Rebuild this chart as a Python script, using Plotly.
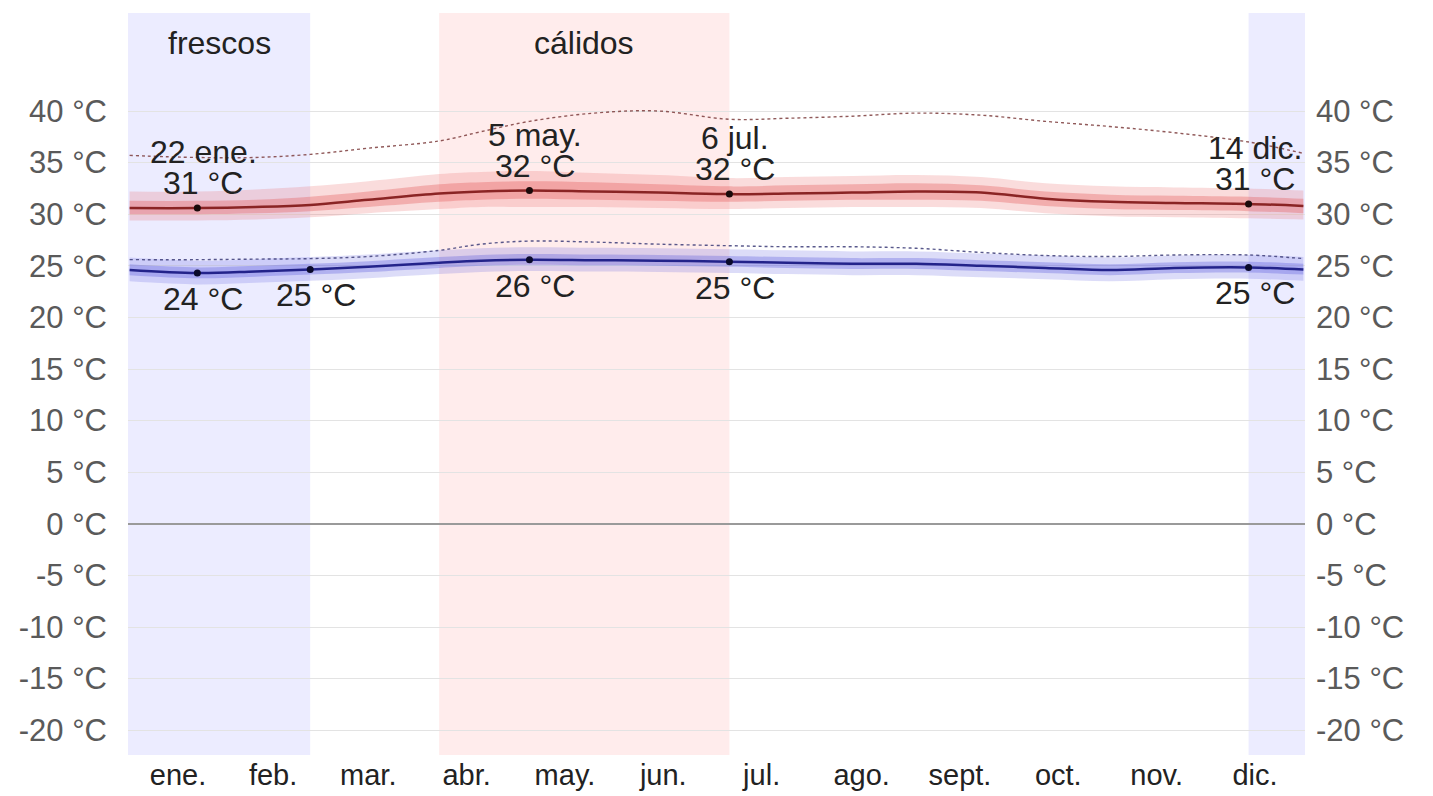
import plotly.graph_objects as go

# ---------------- data ----------------
months = ["ene.", "feb.", "mar.", "abr.", "may.", "jun.", "jul.", "ago.", "sept.", "oct.", "nov.", "dic."]
month_lengths = [31, 28, 31, 30, 31, 30, 31, 31, 30, 31, 30, 31]

# sample days (day of year)
days = [1, 22, 40, 57, 75, 97, 110, 125, 145, 165, 187, 205, 225, 245, 265, 285, 305, 325, 348, 365]

hi_mean = [30.6, 30.6, 30.7, 30.9, 31.4, 32.0, 32.2, 32.3, 32.2, 32.1, 31.95, 32.0, 32.1, 32.2, 32.1, 31.5, 31.2, 31.1, 31.0, 30.8]
hi_p90 = [32.2, 32.2, 32.4, 32.7, 33.2, 33.9, 34.1, 34.2, 34.0, 33.8, 33.5, 33.6, 33.7, 33.8, 33.6, 33.0, 32.7, 32.6, 32.5, 32.3]
hi_p75 = [31.3, 31.3, 31.4, 31.7, 32.2, 32.9, 33.1, 33.2, 33.1, 32.9, 32.7, 32.8, 32.9, 33.0, 32.8, 32.2, 31.9, 31.8, 31.7, 31.5]
hi_p25 = [30.0, 30.0, 30.1, 30.3, 30.7, 31.2, 31.4, 31.5, 31.4, 31.3, 31.2, 31.3, 31.4, 31.4, 31.3, 30.8, 30.5, 30.4, 30.3, 30.1]
hi_p10 = [29.4, 29.4, 29.5, 29.7, 30.1, 30.5, 30.7, 30.7, 30.7, 30.6, 30.5, 30.6, 30.7, 30.7, 30.6, 30.1, 29.8, 29.7, 29.6, 29.5]

lo_mean = [24.6, 24.3, 24.45, 24.65, 24.9, 25.3, 25.5, 25.6, 25.55, 25.5, 25.4, 25.3, 25.2, 25.2, 25.0, 24.8, 24.6, 24.8, 24.85, 24.65]
lo_p90 = [25.8, 25.5, 25.65, 25.85, 26.1, 26.5, 26.7, 26.8, 26.75, 26.7, 26.6, 26.5, 26.4, 26.4, 26.2, 26.0, 25.8, 26.0, 26.05, 25.85]
lo_p75 = [25.15, 24.85, 25.0, 25.2, 25.45, 25.85, 26.05, 26.15, 26.1, 26.05, 25.95, 25.85, 25.75, 25.75, 25.55, 25.35, 25.15, 25.35, 25.4, 25.2]
lo_p25 = [24.1, 23.8, 23.95, 24.15, 24.4, 24.8, 25.0, 25.1, 25.05, 25.0, 24.9, 24.8, 24.7, 24.7, 24.5, 24.3, 24.1, 24.3, 24.35, 24.15]
lo_p10 = [23.5, 23.2, 23.35, 23.55, 23.8, 24.2, 24.4, 24.5, 24.45, 24.4, 24.3, 24.2, 24.1, 24.1, 23.9, 23.7, 23.5, 23.7, 23.75, 23.55]

# perceived temperature (dotted)
feel_hi = [35.7, 35.5, 35.5, 35.8, 36.4, 37.1, 38.0, 39.0, 39.8, 40.0, 39.2, 39.3, 39.5, 39.8, 39.6, 39.0, 38.5, 37.9, 37.0, 35.9]
feel_lo = [25.6, 25.6, 25.65, 25.7, 25.9, 26.5, 27.1, 27.4, 27.3, 27.1, 26.95, 26.85, 26.85, 26.7, 26.3, 26.0, 25.9, 26.05, 26.05, 25.7]

# highlighted days
hi_mark_days = [22, 125, 187, 348]
hi_mark_labels = ["22 ene.", "5 may.", "6 jul.", "14 dic."]
lo_mark_days = [22, 57, 125, 187, 348]

# seasons (day of year boundaries)
cool_end = 57
warm_start = 97
warm_end = 187
cool_start = 348
season_names = ["frescos", "cálidos"]

y_ticks = [40, 35, 30, 25, 20, 15, 10, 5, 0, -5, -10, -15, -20]
y_range = [-22.4, 49.5]
# -----------------------------------------------------------------

xs = [d - 0.5 for d in days]
month_pos = []
acc = 0
for m in month_lengths:
    month_pos.append(acc + m / 2)
    acc += m

FONT = "Liberation Sans, Arial, sans-serif"
fig = go.Figure()


def band(lower, upper, color):
    fig.add_trace(go.Scatter(x=xs, y=lower, mode="lines", line=dict(width=0, shape="spline"),
                             hoverinfo="skip", showlegend=False))
    fig.add_trace(go.Scatter(x=xs, y=upper, mode="lines", line=dict(width=0, shape="spline"),
                             fill="tonexty", fillcolor=color, hoverinfo="skip", showlegend=False))


band(hi_p10, hi_p90, "rgba(232,95,95,0.22)")
band(hi_p25, hi_p75, "rgba(225,70,70,0.30)")
fig.add_trace(go.Scatter(x=xs, y=hi_mean, mode="lines", line=dict(color="#8a2424", width=2.5, shape="spline"),
                         showlegend=False, name="máx"))
fig.add_trace(go.Scatter(x=xs, y=feel_hi, mode="lines", line=dict(color="rgba(125,60,60,0.85)", width=1.4, dash="dot", shape="spline"),
                         showlegend=False))

band(lo_p10, lo_p90, "rgba(95,95,225,0.22)")
band(lo_p25, lo_p75, "rgba(80,80,220,0.30)")
fig.add_trace(go.Scatter(x=xs, y=lo_mean, mode="lines", line=dict(color="#23238a", width=2.5, shape="spline"),
                         showlegend=False, name="mín"))
fig.add_trace(go.Scatter(x=xs, y=feel_lo, mode="lines", line=dict(color="rgba(60,60,120,0.85)", width=1.4, dash="dot", shape="spline"),
                         showlegend=False))

hi_vals = [hi_mean[days.index(d)] for d in hi_mark_days]
lo_vals = [lo_mean[days.index(d)] for d in lo_mark_days]
fig.add_trace(go.Scatter(x=[d - 0.5 for d in hi_mark_days], y=hi_vals, mode="markers",
                         marker=dict(color="#1a0a0a", size=7), showlegend=False))
fig.add_trace(go.Scatter(x=[d - 0.5 for d in lo_mark_days], y=lo_vals, mode="markers",
                         marker=dict(color="#0a0a2a", size=7), showlegend=False))

# invisible trace for right axis
fig.add_trace(go.Scatter(x=[0], y=[0], yaxis="y2", mode="markers", marker=dict(opacity=0),
                         hoverinfo="skip", showlegend=False))

# season shading
shapes = [
    dict(type="rect", xref="x", yref="paper", x0=0, x1=cool_end - 0.5, y0=0, y1=1,
         fillcolor="rgba(120,120,255,0.14)", line=dict(width=0), layer="below"),
    dict(type="rect", xref="x", yref="paper", x0=cool_start - 0.5, x1=365, y0=0, y1=1,
         fillcolor="rgba(120,120,255,0.14)", line=dict(width=0), layer="below"),
    dict(type="rect", xref="x", yref="paper", x0=warm_start - 0.5, x1=warm_end - 0.5, y0=0, y1=1,
         fillcolor="rgba(255,120,120,0.14)", line=dict(width=0), layer="below"),
]

ann = []
TXT = dict(family=FONT, size=32, color="#222222")
ann.append(dict(x=(cool_end - 0.5) / 2, y=0.96, xref="x", yref="paper", text=season_names[0],
                showarrow=False, font=TXT, xanchor="center", yanchor="middle"))
ann.append(dict(x=(warm_start + warm_end - 1) / 2, y=0.96, xref="x", yref="paper", text=season_names[1],
                showarrow=False, font=TXT, xanchor="center", yanchor="middle"))

for d, v, lab in zip(hi_mark_days, hi_vals, hi_mark_labels):
    ann.append(dict(x=d - 0.5, y=v, xref="x", yref="y", text=lab, showarrow=False, font=TXT,
                    xanchor="center", yanchor="middle", yshift=56, xshift=6))
    ann.append(dict(x=d - 0.5, y=v, xref="x", yref="y", text=f"{round(v)} °C", showarrow=False, font=TXT,
                    xanchor="center", yanchor="middle", yshift=25, xshift=6))
for d, v in zip(lo_mark_days, lo_vals):
    ann.append(dict(x=d - 0.5, y=v, xref="x", yref="y", text=f"{round(v)} °C", showarrow=False, font=TXT,
                    xanchor="center", yanchor="middle", yshift=-26, xshift=6))

tick_text = [f"{t} °C" for t in y_ticks]
TICKF = dict(family=FONT, size=31, color="#5a5a5a")

fig.update_layout(
    width=1433, height=796,
    margin=dict(l=128, r=128, t=13, b=41, autoexpand=False),
    paper_bgcolor="white", plot_bgcolor="white",
    shapes=shapes, annotations=ann,
    showlegend=False,
    xaxis=dict(range=[0, 365], tickvals=month_pos, ticktext=months, showgrid=False, zeroline=False,
               ticks="", showline=False, tickfont=dict(family=FONT, size=29, color="#222222"),
               ticklabelstandoff=0, fixedrange=True, automargin=False),
    yaxis=dict(range=y_range, tickvals=y_ticks, ticktext=tick_text, showgrid=True,
               gridcolor="#e3e3e3", gridwidth=1, zeroline=True, zerolinecolor="#9a9a9a", zerolinewidth=1.5,
               ticks="", showline=False, tickfont=TICKF, ticklabelstandoff=20, automargin=False),
    yaxis2=dict(range=y_range, tickvals=y_ticks, ticktext=tick_text, overlaying="y", side="right",
                showgrid=False, zeroline=False, ticks="", showline=False, tickfont=TICKF,
                ticklabelstandoff=10, automargin=False),
)

fig.write_html("out.html", config={"displayModeBar": False},
               post_script="document.body.style.margin='0';document.body.style.overflow='hidden';")
